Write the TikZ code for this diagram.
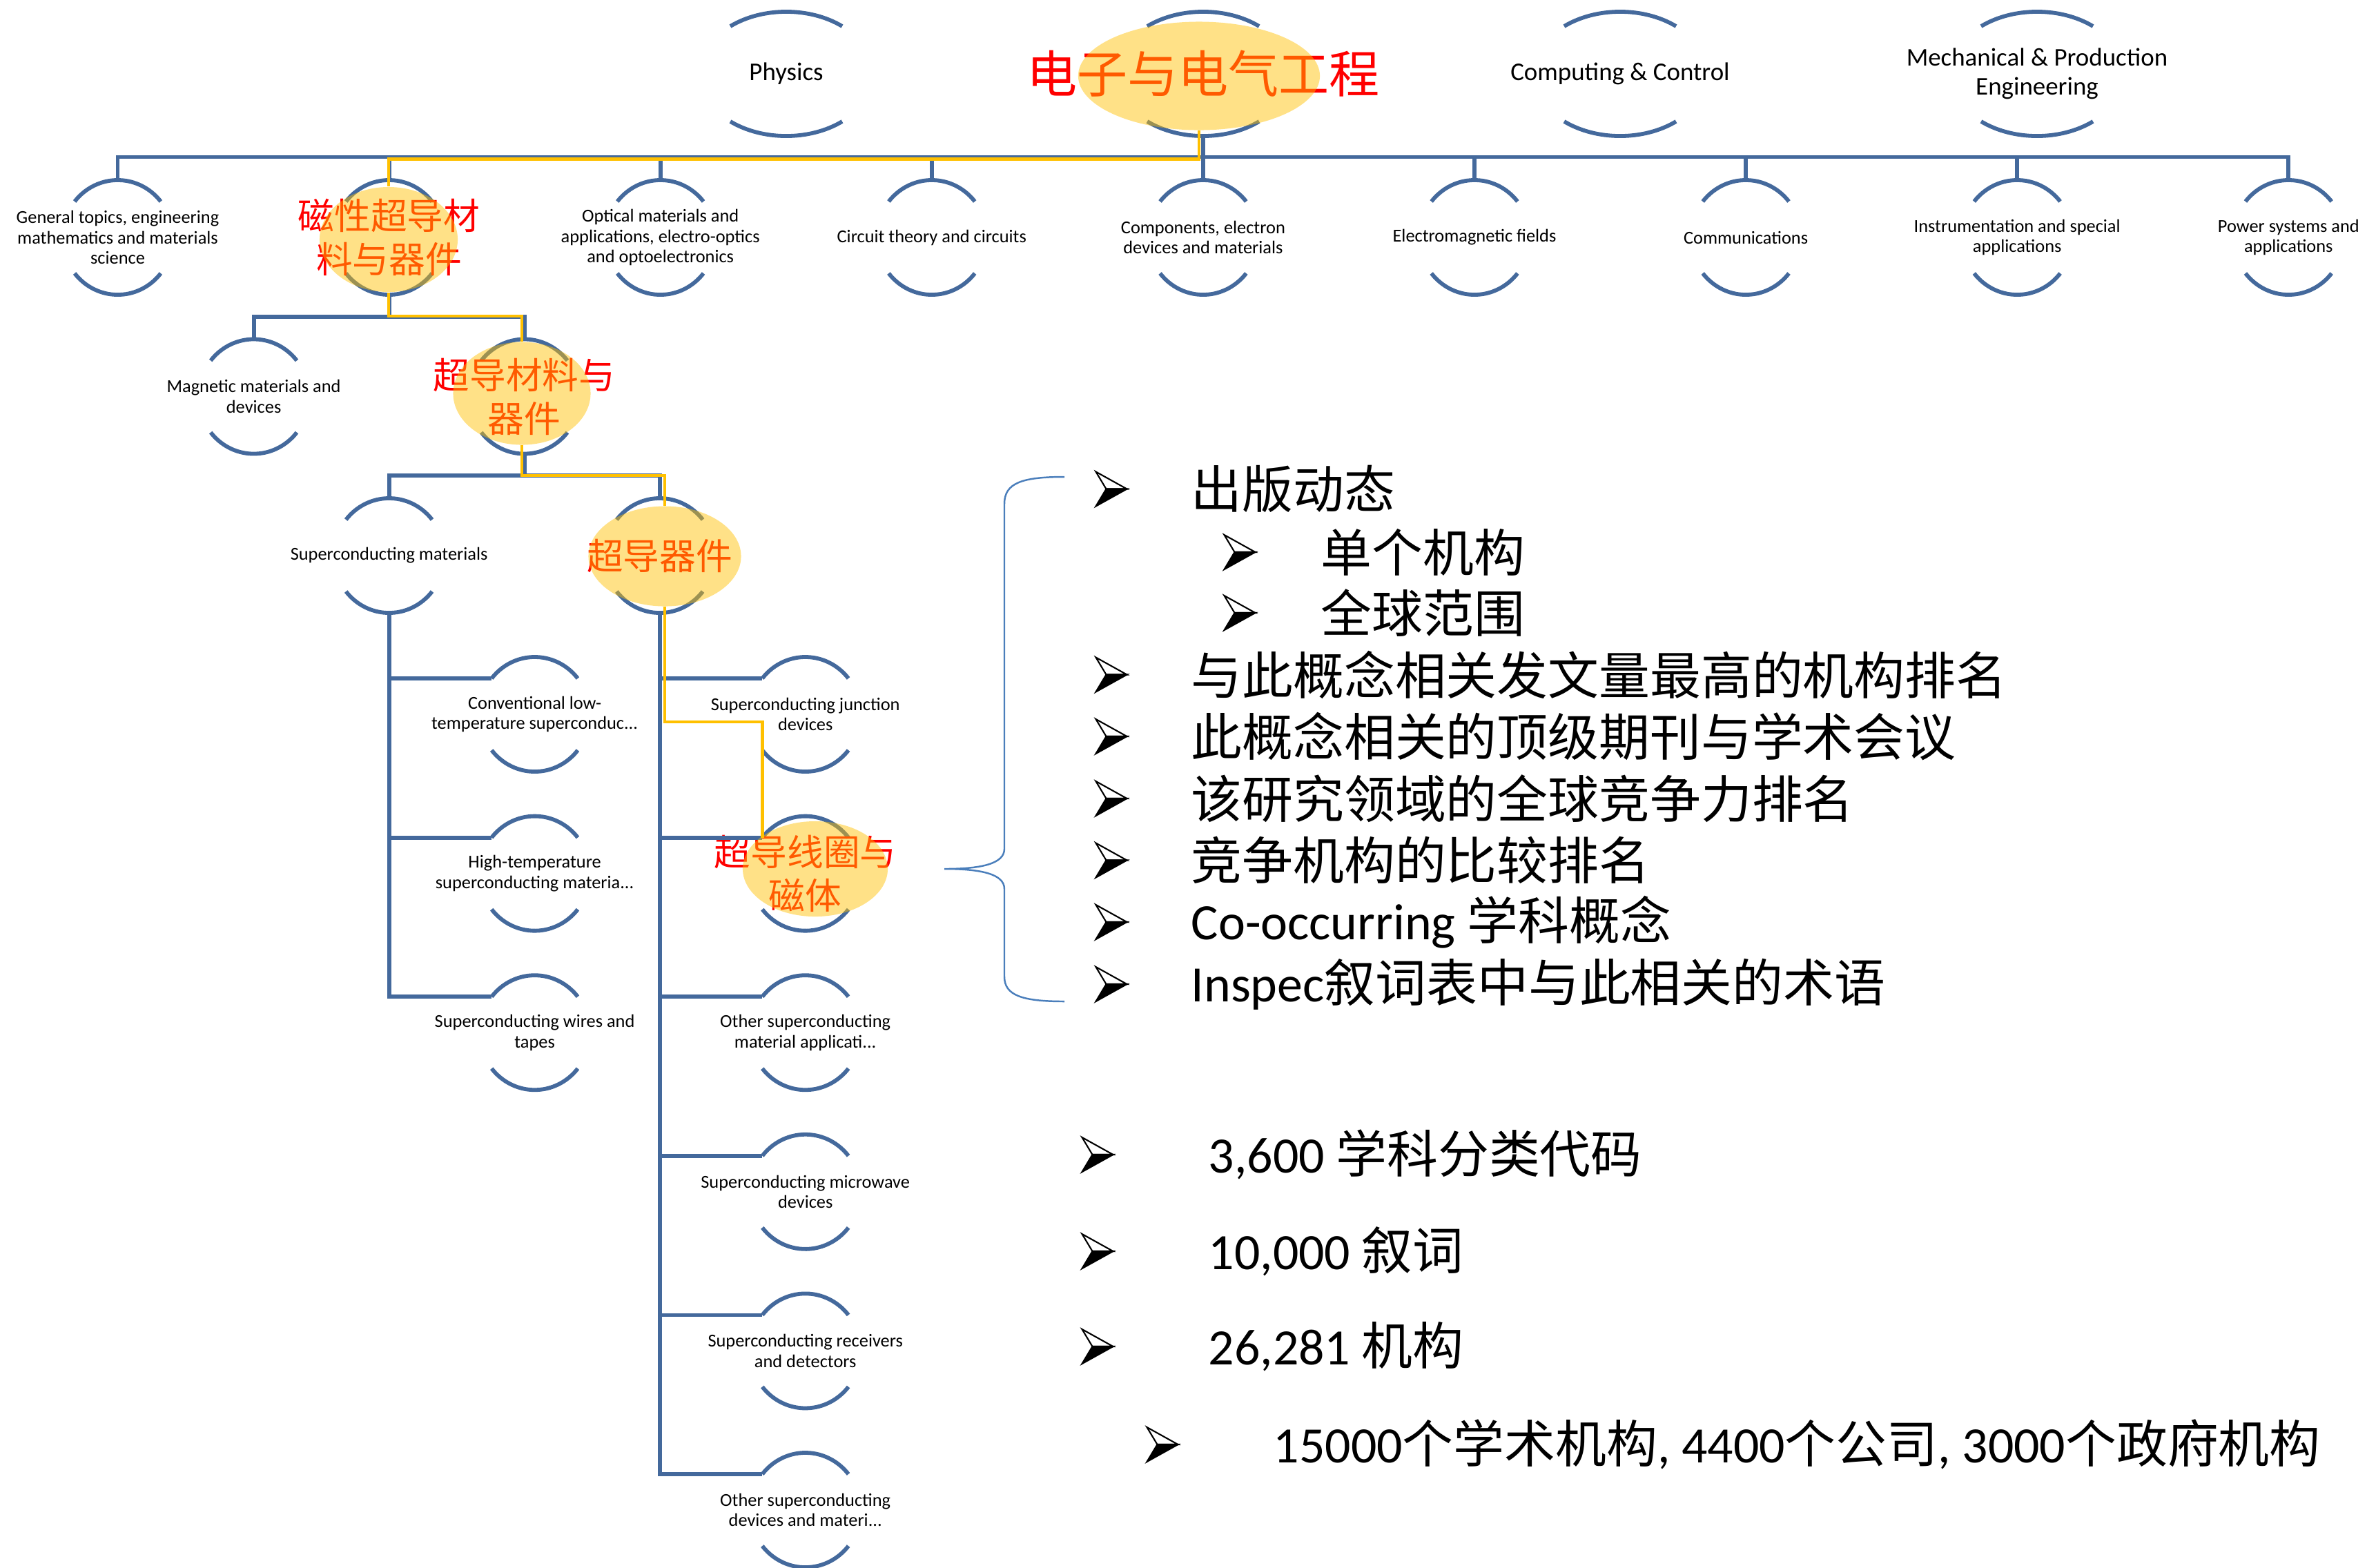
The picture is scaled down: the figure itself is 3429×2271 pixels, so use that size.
\documentclass[tikz,border=0pt]{standalone}
\usepackage{fontspec}
\setmainfont{Carlito}
\newfontfamily\cjk{Noto Sans CJK SC}
\usetikzlibrary{shapes.geometric,calc}
\definecolor{hblue}{HTML}{44699C}
\definecolor{hgold}{HTML}{FFC000}
\definecolor{braceblue}{HTML}{4A7EBB}
% hierarchy node: name, x, y, style, text
\newcommand\hnode[5]{%
  \coordinate (#1-top) at (#2,#3-83);
  \coordinate (#1-bot) at (#2,#3+83);
  \coordinate (#1-tl) at (#2-62.4,#3-52);
  \draw[arcst] (#2,#3) ++(141.2:0.8cm and 0.83cm) arc[start angle=141.2,end angle=38.8,x radius=0.8cm,y radius=0.83cm];
  \draw[arcst] (#2,#3) ++(218.8:0.8cm and 0.83cm) arc[start angle=218.8,end angle=321.2,x radius=0.8cm,y radius=0.83cm];
  \node[#4] (#1) at (#2,#3) {#5};}
% top level node
\newcommand\tnode[5]{%
  \coordinate (#1-bot) at (#2,#3+90);
  \draw[arcst] (#2,#3) ++(130:1.26cm and 0.9cm) arc[start angle=130,end angle=50,x radius=1.26cm,y radius=0.9cm];
  \draw[arcst] (#2,#3) ++(230:1.26cm and 0.9cm) arc[start angle=230,end angle=310,x radius=1.26cm,y radius=0.9cm];
  \node[#4] (#1) at (#2,#3) {#5};}
\begin{document}
\begin{tikzpicture}[x=0.01cm,y=-0.01cm,
  arcst/.style={draw=hblue,line width=1.65pt},
  conn/.style={draw=hblue,line width=1.65pt},
  hl/.style={draw=hgold,line width=1.25pt},
  hili/.style={ellipse,fill=hgold,fill opacity=0.47,draw=none,inner sep=0pt},
  lbl/.style={font=\fontsize{7.5}{8.4}\selectfont,align=center,inner sep=0pt},
  toplbl/.style={font=\fontsize{10.5}{11.8}\selectfont,align=center,inner sep=0pt},
  redlbl/.style={font=\cjk\fontsize{15}{17.9}\selectfont,text=red,align=center,inner sep=0pt},
  rootlbl/.style={font=\cjk\fontsize{20.8}{24}\selectfont,text=red,inner sep=0pt},
  listtxt/.style={font=\fontsize{21}{25}\selectfont,anchor=west,inner sep=0pt},
  bracest/.style={draw=braceblue,line width=0.7pt},
  bul/.pic={
    \filldraw[fill=white,draw=black,line width=0.6pt,line join=miter] (-22.5,-25) -- (22.5,0) -- (-7.5,0) -- cycle;
    \filldraw[fill=black,draw=black,line width=0.6pt,line join=miter] (-7.5,0) -- (22.5,0) -- (-22.5,25) -- cycle;
  }
]
\useasboundingbox (0,0) rectangle (3429,2271);

% bar levels
\coordinate (bar1) at (0,227.5);
\coordinate (bar2) at (0,459);
\coordinate (bar3) at (0,689);
\coordinate (ybar1) at (0,230.5);
\coordinate (ybar2) at (0,458);
\coordinate (ybar3) at (0,689);
\coordinate (ybar4) at (0,1046);

% top level
\tnode{t1}{1139}{107}{toplbl}{Physics}
\tnode{t0}{1743}{107}{rootlbl}{电子与电气工程}
\tnode{t2}{2347}{107}{toplbl}{Computing \& Control}
\tnode{t3}{2951}{107}{toplbl}{Mechanical \& Production\\Engineering}

% level 1
\hnode{l0}{170.5}{344}{lbl}{General topics, engineering\\mathematics and materials\\science}
\hnode{l1}{563.6}{344}{redlbl}{磁性超导材\\料与器件}
\hnode{l2}{956.7}{344}{lbl}{Optical materials and\\applications, electro-optics\\and optoelectronics}
\hnode{l3}{1349.8}{344}{lbl}{Circuit theory and circuits}
\hnode{l4}{1742.9}{344}{lbl}{Components, electron\\devices and materials}
\hnode{l5}{2136.0}{344}{lbl}{Electromagnetic fields}
\hnode{l6}{2529.1}{344}{lbl}{Communications}
\hnode{l7}{2922.2}{344}{lbl}{Instrumentation and special\\applications}
\hnode{l8}{3315.3}{344}{lbl}{Power systems and\\applications}

% level 2
\hnode{m0}{367.6}{574.5}{lbl}{Magnetic materials and\\devices}
\hnode{m1}{759.6}{574.5}{redlbl}{超导材料与\\器件}

% level 3
\hnode{s0}{563.6}{805}{lbl}{Superconducting materials}
\hnode{s1}{955.7}{805}{redlbl}{超导器件}

% level 4 left
\hnode{a0}{774.6}{1035}{lbl}{Conventional low-\\temperature superconduc...}
\hnode{a1}{774.6}{1265.6}{lbl}{High-temperature\\superconducting materia...}
\hnode{a2}{774.6}{1496.2}{lbl}{Superconducting wires and\\tapes}

% level 4 right
\hnode{b0}{1166.7}{1035}{lbl}{Superconducting junction\\devices}
\hnode{b1}{1166.7}{1265.6}{redlbl}{超导线圈与\\磁体}
\hnode{b2}{1166.7}{1496.2}{lbl}{Other superconducting\\material applicati...}
\hnode{b3}{1166.7}{1726.8}{lbl}{Superconducting microwave\\devices}
\hnode{b4}{1166.7}{1957.4}{lbl}{Superconducting receivers\\and detectors}
\hnode{b5}{1166.7}{2188}{lbl}{Other superconducting\\devices and materi...}

% connectors
\draw[conn] (t0-bot) -- (t0-bot |- bar1);
\draw[conn] (l0-top) -- (l0-top |- bar1) -- (l8-top |- bar1) -- (l8-top);
\foreach \i in {1,...,7} {\draw[conn] (l\i-top |- bar1) -- (l\i-top);}
\draw[conn] (l1-bot) -- (l1-bot |- bar2);
\draw[conn] (m0-top) -- (m0-top |- bar2) -- (m1-top |- bar2) -- (m1-top);
\draw[conn] (m1-bot) -- (m1-bot |- bar3);
\draw[conn] (s0-top) -- (s0-top |- bar3) -- (s1-top |- bar3) -- (s1-top);
\draw[conn] (s0-bot) |- (a2-tl);
\foreach \n in {a0,a1} {\draw[conn] (s0-bot |- \n-tl) -- (\n-tl);}
\draw[conn] (s1-bot) |- (b5-tl);
\foreach \n in {b0,b1,b2,b3,b4} {\draw[conn] (s1-bot |- \n-tl) -- (\n-tl);}

% highlight ellipses
\path (1737,110) coordinate (h0c) (563,347) coordinate (h1c) (756,570) coordinate (h2c)
      (963,806) coordinate (h3c) (1181,1259) coordinate (h4c);
\node[hili,minimum width=3.5cm,minimum height=1.57cm] (h0) at (h0c) {};
\node[hili,minimum width=2.0cm,minimum height=1.52cm] (h1) at (h1c) {};
\node[hili,minimum width=1.99cm,minimum height=1.49cm] (h2) at (h2c) {};
\node[hili,minimum width=2.21cm,minimum height=1.45cm] (h3) at (h3c) {};
\node[hili,minimum width=2.1cm,minimum height=1.38cm] (h4) at (h4c) {};

% highlighted path
\draw[hl] (h0.south) -- (h0.south |- ybar1) -| (h1.north);
\draw[hl] (h1.south) -- (h1.south |- ybar2) -| (h2.north);
\draw[hl] (h2.south) -- (h2.south |- ybar3) -| (h3.north);
\draw[hl] (h3.south) -- (h3.south |- ybar4) -| (b1-tl);

% brace
\draw[bracest] (1542,691) .. controls (1480,691) and (1455,700) .. (1455,730)
  -- (1455,1230) .. controls (1455,1252) and (1420,1259) .. (1368,1259)
  .. controls (1420,1259) and (1455,1266) .. (1455,1288)
  -- (1455,1415) .. controls (1455,1442) and (1480,1451) .. (1542,1451);

% list
\pic at (1610,708.5) {bul};
\node[listtxt] (i1) at (1725,708.5) {\cjk 出版动态};
\pic at (1796,800) {bul};
\node[listtxt] (i1a) at (1913,800) {\cjk 单个机构};
\pic at (1796,888) {bul};
\node[listtxt] (i1b) at (1913,888) {\cjk 全球范围};
\pic at (1610,977.5) {bul};
\node[listtxt] (i2) at (1725,977.5) {\cjk 与此概念相关发文量最高的机构排名};
\pic at (1610,1067) {bul};
\node[listtxt] (i3) at (1725,1067) {\cjk 此概念相关的顶级期刊与学术会议};
\pic at (1610,1157) {bul};
\node[listtxt] (i4) at (1725,1157) {\cjk 该研究领域的全球竞争力排名};
\pic at (1610,1246.5) {bul};
\node[listtxt] (i5) at (1725,1246.5) {\cjk 竞争机构的比较排名};
\pic at (1610,1336) {bul};
\node[listtxt] (i6) at (1725,1336) {Co-occurring {\cjk 学科概念}};
\pic at (1610,1426) {bul};
\node[listtxt] (i7) at (1725,1426) {Inspec{\cjk 叙词表中与此相关的术语}};

\pic at (1590,1673) {bul};
\node[listtxt] (k1) at (1750,1673) {3,600 {\cjk 学科分类代码}};
\pic at (1590,1813) {bul};
\node[listtxt] (k2) at (1750,1813) {10,000 {\cjk 叙词}};
\pic at (1590,1951) {bul};
\node[listtxt] (k3) at (1750,1951) {26,281 {\cjk 机构}};
\pic at (1684,2093) {bul};
\node[listtxt] (k4) at (1844,2093) {15000{\cjk 个学术机构}, 4400{\cjk 个公司}, 3000{\cjk 个政府机构}};
\end{tikzpicture}
\end{document}
